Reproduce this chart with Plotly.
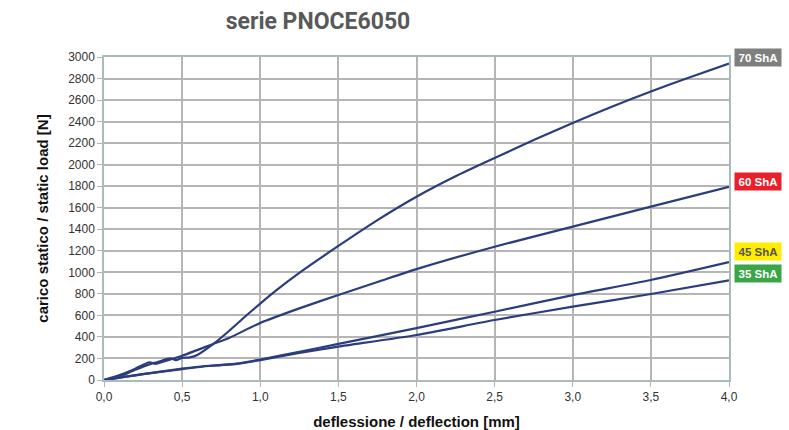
import plotly.graph_objects as go

# deflection [mm] / load [N] per hardness
x70 = [0, 0.1, 0.2, 0.3, 0.34, 0.4, 0.43, 0.46, 0.5, 0.55, 0.6, 0.7, 0.8, 0.9, 1.0, 1.1, 1.25, 1.5, 1.75, 2.0, 2.25, 2.5, 2.75, 3.0, 3.25, 3.5, 3.75, 4.0]
y70 = [0, 30, 95, 150, 165, 195, 200, 185, 205, 210, 235, 335, 455, 585, 710, 830, 995, 1245, 1485, 1702, 1892, 2062, 2228, 2388, 2538, 2680, 2812, 2940]

x60 = [0, 0.1, 0.2, 0.29, 0.33, 0.4, 0.5, 0.6, 0.7, 0.8, 1.0, 1.25, 1.5, 1.75, 2.0, 2.5, 3.0, 3.5, 4.0]
y60 = [0, 45, 105, 165, 150, 180, 225, 280, 335, 390, 530, 665, 790, 910, 1030, 1238, 1424, 1610, 1795]

x45 = [0, 0.25, 0.5, 0.65, 0.75, 0.85, 1.0, 1.25, 1.5, 2.0, 2.5, 3.0, 3.5, 4.0]
y45 = [0, 55, 105, 130, 140, 152, 190, 262, 335, 482, 634, 789, 929, 1095]

x35 = [0, 0.25, 0.5, 0.65, 0.75, 0.85, 1.0, 1.25, 1.5, 2.0, 2.5, 3.0, 3.5, 4.0]
y35 = [0, 55, 100, 128, 138, 150, 185, 252, 310, 418, 557, 681, 799, 925]

labels = ["70 ShA", "60 ShA", "45 ShA", "35 ShA"]
label_y = [2995, 1848, 1193, 989]
label_bg = ["#7f7f7f", "#e8202a", "#ffed00", "#3aa648"]
label_fg = ["white", "white", "#555555", "white"]

xticks = [0, 0.5, 1.0, 1.5, 2.0, 2.5, 3.0, 3.5, 4.0]
xticktext = ["0,0", "0,5", "1,0", "1,5", "2,0", "2,5", "3,0", "3,5", "4,0"]

line_color = "#2b3d7c"
fig = go.Figure()
for xs, ys in [(x35, y35), (x45, y45), (x60, y60), (x70, y70)]:
    fig.add_trace(go.Scatter(x=xs, y=ys, mode="lines",
                             line=dict(color=line_color, width=2.2, shape="spline", smoothing=0.6),
                             showlegend=False, hoverinfo="skip"))

for t, yv, bg, fg in zip(labels, label_y, label_bg, label_fg):
    fig.add_annotation(x=1, xref="paper", y=yv, yref="y", xanchor="left", xshift=5,
                       text="<b>" + t + "</b>", showarrow=False, bgcolor=bg,
                       width=44, height=15, align="center", valign="middle",
                       font=dict(color=fg, size=11.5, family="Liberation Sans"),
                       borderpad=1)

fig.update_layout(
    width=789, height=430,
    margin=dict(l=104, r=60, t=57, b=50),
    paper_bgcolor="white", plot_bgcolor="white",
    title=dict(text="<b>serie PNOCE6050</b>", x=318/789, xanchor="center", y=1 - 21/430, yanchor="middle",
               font=dict(family="Roboto", size=23, color="#595959")),
    xaxis=dict(range=[0, 4], tickvals=xticks, ticktext=xticktext, automargin=False,
               showgrid=True, gridcolor="#b5b5b5", gridwidth=1.5,
               ticks="outside", ticklen=5, tickcolor="#b5b5b5",
               showline=True, linecolor="#a9bcbc", linewidth=1.5, mirror=True,
               zeroline=False,
               tickfont=dict(family="Liberation Sans", size=12, color="#333333"),
               title=dict(text="<b>deflessione / deflection [mm]</b>", standoff=22,
                          font=dict(family="Liberation Sans", size=15, color="#111111"))),
    yaxis=dict(range=[0, 3000], dtick=200, automargin=False,
               showgrid=True, gridcolor="#b5b5b5", gridwidth=1.5,
               ticks="outside", ticklen=5, tickcolor="#b5b5b5",
               showline=True, linecolor="#a9bcbc", linewidth=1.5, mirror=True,
               zeroline=False,
               tickfont=dict(family="Liberation Sans", size=12, color="#333333"),
               title=dict(text="<b>carico statico / static load [N]</b>", standoff=16,
                          font=dict(family="Liberation Sans", size=15, color="#111111"))),
)

fig.write_html("out.html")
